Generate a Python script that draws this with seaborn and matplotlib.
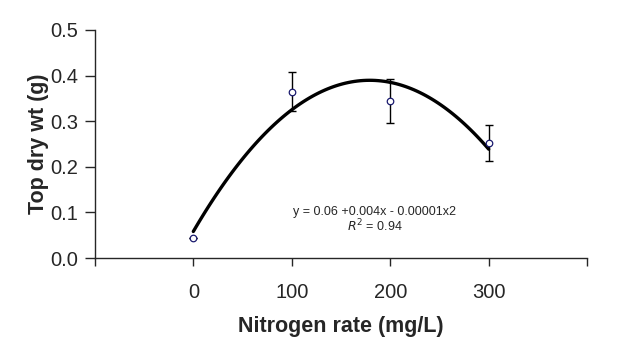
import numpy as np
import pandas as pd
import matplotlib
matplotlib.use("Agg")
import matplotlib.pyplot as plt
import seaborn as sns

# Nitrogen rate (mg/L) and mean top dry weight (g), with error bar half-widths
nitrogen = [0, 100, 200, 300]
dry_wt = [0.045, 0.365, 0.345, 0.252]
dry_err = [0.0, 0.043, 0.048, 0.040]

x_ticks = [-100, 0, 100, 200, 300, 400]
x_labels = ["", "0", "100", "200", "300", ""]
y_ticks = [0.0, 0.1, 0.2, 0.3, 0.4, 0.5]
y_labels = ["0.0", "0.1", "0.2", "0.3", "0.4", "0.5"]

eq_text = "y = 0.06 +0.004x - 0.00001x2"
r2_text = "$R^2$ = 0.94"

df = pd.DataFrame({"nitrogen": nitrogen, "dry_wt": dry_wt, "err": dry_err})

sns.set_style("ticks")
plt.rcParams["font.family"] = ["Liberation Sans", "DejaVu Sans"]

fig = plt.figure(figsize=(6.24, 3.6), dpi=100)
ax = fig.add_axes([0.152, 0.283, 0.789, 0.634])

# quadratic trendline fitted through the means
sns.regplot(data=df, x="nitrogen", y="dry_wt", order=2, ci=None, scatter=False,
            line_kws={"color": "black", "lw": 2.4}, ax=ax)

ax.errorbar(df["nitrogen"], df["dry_wt"], yerr=df["err"], fmt="none",
            ecolor="black", elinewidth=1, capsize=2.6, capthick=1, zorder=3)
sns.scatterplot(data=df, x="nitrogen", y="dry_wt", marker="o", s=22,
                facecolor="white", edgecolor="#1a1a6e", linewidth=0.9,
                zorder=4, ax=ax)

ax.set_xlim(-100, 400)
ax.set_ylim(0, 0.5)
ax.set_xticks(x_ticks)
ax.set_xticklabels(x_labels)
ax.set_yticks(y_ticks)
ax.set_yticklabels(y_labels)
ax.tick_params(axis="x", direction="out", length=6, width=1, pad=12, labelsize=14.5)
ax.tick_params(axis="y", direction="out", length=7, width=1, pad=5, labelsize=14.5)
for s in ["top", "right"]:
    ax.spines[s].set_visible(False)
ax.spines["left"].set_linewidth(1)
ax.spines["bottom"].set_linewidth(1)

ax.set_xlabel("Nitrogen rate (mg/L)", fontsize=15.5, fontweight="bold", labelpad=10)
ax.set_ylabel("Top dry wt (g)", fontsize=15.5, fontweight="bold", labelpad=1)

narrow = ["Liberation Sans Narrow", "Liberation Sans", "DejaVu Sans"]
ax.text(0.568, 0.200, eq_text, transform=ax.transAxes, ha="center", va="center",
        fontsize=9, family=narrow)
ax.text(0.568, 0.140, r2_text, transform=ax.transAxes, ha="center", va="center",
        fontsize=9, family=narrow)

fig.savefig("out.png", dpi=100, facecolor="white")
